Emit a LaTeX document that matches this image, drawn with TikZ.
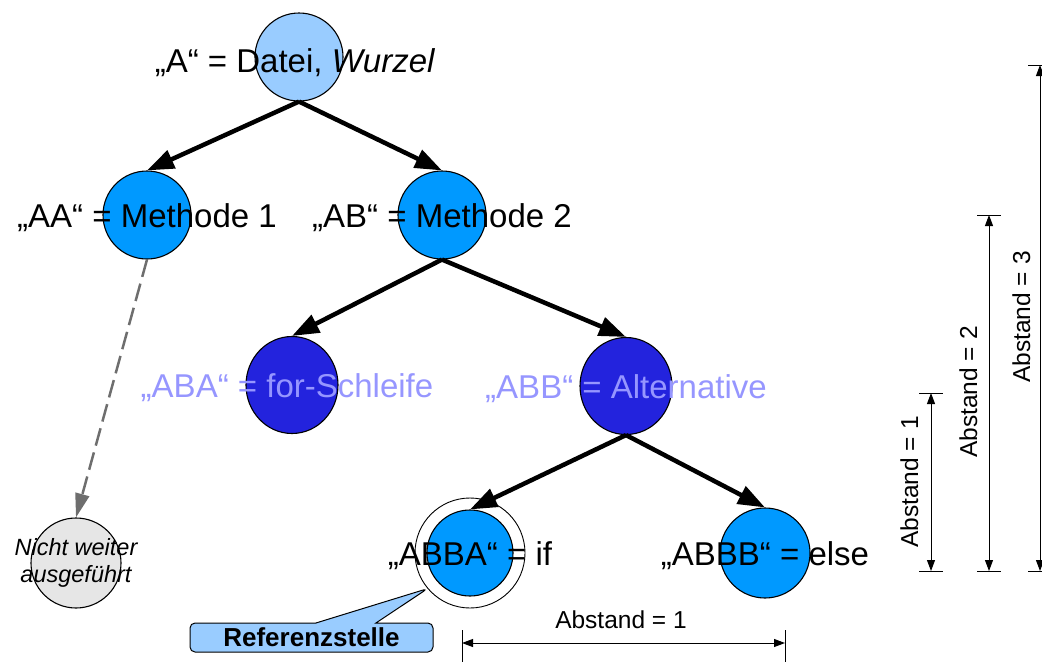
\documentclass[tikz,border=0pt]{standalone}
\usepackage{fontspec}
\setmainfont{Liberation Sans}
\usetikzlibrary{arrows.meta,shapes.geometric,shapes.callouts}
\definecolor{rootblue}{RGB}{153,204,255}
\definecolor{midblue}{RGB}{0,153,255}
\definecolor{darkblue}{RGB}{35,35,221}
\definecolor{lightpurple}{RGB}{150,150,255}
\definecolor{nodegray}{RGB}{230,230,230}
\definecolor{dashgray}{RGB}{110,110,110}
\begin{document}
\begin{tikzpicture}[x=1pt,y=-1pt,
  treenode/.style={circle, draw=black, line width=1.1pt, minimum size=88pt, inner sep=0pt},
  darknode/.style={ellipse, draw=black, line width=1.1pt, fill=darkblue, minimum width=92pt, minimum height=97pt, inner sep=0pt},
  lbl/.style={font=\fontsize{33}{39}\selectfont, anchor=base, inner sep=0pt},
  edge/.style={line width=4.5pt, -{Triangle[length=27pt,width=19pt]}},
  dim/.style={line width=1pt, {Triangle[length=11pt,width=8pt]}-{Triangle[length=11pt,width=8pt]}},
  tickline/.style={line width=1pt},
  dimlbl/.style={font=\fontsize{24.5}{29}\selectfont, anchor=base, inner sep=0pt}]
\useasboundingbox (0,0) rectangle (1042,662);

% tree nodes
\node[treenode, fill=rootblue] (root) at (299,57) {};
\node[treenode, fill=midblue] (aa) at (147,215) {};
\node[treenode, fill=midblue] (ab) at (442,215) {};
\node[darknode] (aba) at (292,385) {};
\node[darknode] (abb) at (626,386) {};
\node[circle, draw=black, line width=0.9pt, fill=white, minimum size=110pt, inner sep=0pt] (ring) at (470,553) {};
\node[treenode, fill=midblue, minimum size=86pt] (abba) at (470,553) {};
\node[treenode, fill=midblue, minimum size=90pt] (abbb) at (765,553) {};
\node[treenode, fill=nodegray, minimum size=90pt] (nw) at (76,563) {};

% edges
\draw[edge] (root.south) -- (aa.north);
\draw[edge] (root.south) -- (ab.north);
\draw[edge] (ab.south) -- (aba.north);
\draw[edge] (ab.south) -- (abb.north);
\draw[edge] (abb.south) -- (abba.north);
\draw[edge] (abb.south) -- (abbb.north);
\draw[line width=2.5pt, dashgray, dash pattern=on 18pt off 7pt, -{Triangle[length=24pt,width=14pt]}] (aa.south) -- (nw.north);

% labels
\node[lbl] (troot) at ([xshift=-4pt,yshift=-15pt]root.center) {„A“ = Datei, \textit{Wurzel}};
\node[lbl] (taa) at ([yshift=-12pt]aa.center) {„AA“ = Methode 1};
\node[lbl] (tab) at ([yshift=-12pt]ab.center) {„AB“ = Methode 2};
\node[lbl, text=lightpurple] (taba) at ([xshift=-5pt,yshift=-12pt]aba.center) {„ABA“ = for-Schleife};
\node[lbl, text=lightpurple] (tabb) at ([yshift=-12pt]abb.center) {„ABB“ = Alternative};
\node[lbl] (tabba) at ([yshift=-12pt]abba.center) {„ABBA“ = if};
\node[lbl] (tabbb) at ([yshift=-12pt]abbb.center) {„ABBB“ = else};
\node[font=\itshape\fontsize{23.5}{27}\selectfont, align=center, inner sep=0pt] (tnw) at (nw.center) {Nicht weiter\\ausgeführt};

% callout
\node[rectangle callout, draw=black, line width=1pt, fill=rootblue, rounded corners=5pt,
      minimum width=243pt, minimum height=29pt, inner sep=0pt,
      callout absolute pointer={(ring.220)}, callout pointer width=60pt,
      font=\bfseries\fontsize{26}{30}\selectfont] (ref) at (311.5,637.5) {Referenzstelle};

% horizontal dimension
\coordinate (h1) at (462,643);
\coordinate (h2) at (785,643);
\draw[tickline] (462,630) -- (462,662);
\draw[tickline] (785,630) -- (785,662);
\draw[dim] (h1) -- (h2);
\node[dimlbl] (dh) at (621,628) {Abstand = 1};

% vertical dimensions
\coordinate (v1t) at (931,393);
\coordinate (v1b) at (931,571);
\coordinate (v2t) at (989,215);
\coordinate (v2b) at (989,571);
\coordinate (v3t) at (1040,65);
\coordinate (v3b) at (1040,571);
\draw[tickline] (919,393) -- (943,393);
\draw[tickline] (919,571) -- (943,571);
\draw[tickline] (977,215) -- (1001,215);
\draw[tickline] (977,571) -- (1001,571);
\draw[tickline] (1028,65) -- (1042,65);
\draw[tickline] (1028,571) -- (1042,571);
\draw[dim] (v1t) -- (v1b);
\draw[dim] (v2t) -- (v2b);
\draw[dim] (v3t) -- (v3b);
\node[dimlbl, rotate=90] (dv1) at (918,482) {Abstand = 1};
\node[dimlbl, rotate=90] (dv2) at (977,392) {Abstand = 2};
\node[dimlbl, rotate=90] (dv3) at (1030,317) {Abstand = 3};
\end{tikzpicture}
\end{document}
